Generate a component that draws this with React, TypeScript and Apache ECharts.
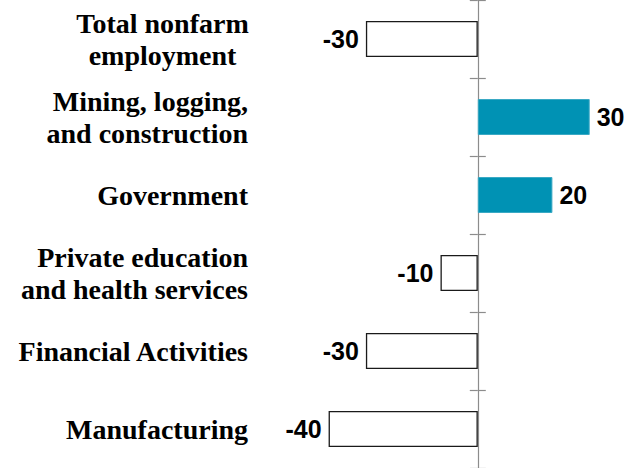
import React, { useEffect, useRef } from "react";
import * as echarts from "echarts";

const categories = [
  "Total nonfarm\nemployment",
  "Mining, logging,\nand construction",
  "Government",
  "Private education\nand health services",
  "Financial Activities",
  "Manufacturing",
];
const values = [-30, 30, 20, -10, -30, -40];

const POS_COLOR = "#0092b4";
const AXIS_COLOR = "#8c8c8c";

export default function App() {
  const ref = useRef<HTMLDivElement>(null);
  useEffect(() => {
    if (!ref.current) return;
    const chart = echarts.init(ref.current, undefined, { renderer: "svg" });
    const data = values.map((v) => ({
      value: v,
      itemStyle:
        v >= 0
          ? { color: POS_COLOR, borderColor: "#3aa9c4", borderWidth: 1 }
          : { color: "#ffffff", borderColor: "#1a1a1a", borderWidth: 1.3 },
      label: { position: v >= 0 ? "right" : "left" },
    }));
    const labelData = categories.map((c, i) =>
      i === 0 ? { value: c, textStyle: { align: "center", padding: [0, 171, 0, 0] } } : c
    );
    const catAxisBase = {
      type: "category",
      inverse: true,
      position: "left",
    };
    const valAxisBase = {
      type: "value",
      min: -60,
      max: 40,
      show: false,
      splitLine: { show: false },
    };
    chart.setOption({
      animation: false,
      grid: { left: 254, right: 13, top: -4, bottom: -3, containLabel: false },
      xAxis: [
        { ...valAxisBase, position: "bottom" },
        { ...valAxisBase, position: "top" },
      ],
      yAxis: [
        {
          ...catAxisBase,
          data: labelData,
          axisLine: { show: false, onZero: false },
          axisTick: { show: false },
          axisLabel: {
            show: true,
            margin: 6,
            align: "right",
            color: "#000",
            fontFamily: "Liberation Serif",
            fontWeight: "bold",
            fontSize: 28,
            lineHeight: 32,
          },
        },
        {
          ...catAxisBase,
          data: categories,
          axisLine: {
            show: true,
            onZero: true,
            onZeroAxisIndex: 0,
            lineStyle: { color: AXIS_COLOR, width: 1.2 },
          },
          axisTick: { show: true, length: 8, inside: false, lineStyle: { color: AXIS_COLOR, width: 1.2 } },
          axisLabel: { show: false },
        },
        {
          ...catAxisBase,
          data: categories,
          axisLine: { show: false, onZero: true, onZeroAxisIndex: 1 },
          axisTick: { show: true, length: 8, inside: true, lineStyle: { color: AXIS_COLOR, width: 1.2 } },
          axisLabel: { show: false },
        },
      ],
      series: [
        {
          type: "bar",
          xAxisIndex: 0,
          yAxisIndex: 0,
          barWidth: 36,
          data,
          label: {
            show: true,
            distance: 7,
            color: "#000",
            fontFamily: "Liberation Sans",
            fontWeight: "bold",
            fontSize: 25,
          },
        },
      ],
    });
    return () => chart.dispose();
  }, []);
  return (
    <div
      ref={ref}
      style={{ position: "fixed", left: 0, top: 0, width: 640, height: 468, background: "#fff" }}
    />
  );
}
